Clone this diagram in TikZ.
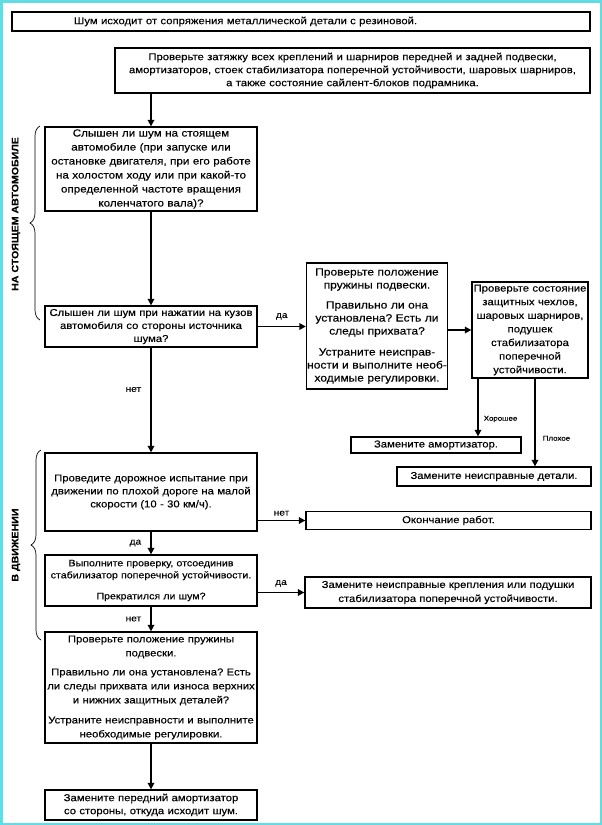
\documentclass[tikz,border=0pt]{standalone}
\usepackage{fontspec}
\setmainfont[FakeStretch=1.13,FakeBold=0.25]{Liberation Sans}
\usetikzlibrary{arrows.meta,decorations.pathreplacing,calc}
\definecolor{frame}{RGB}{95,220,228}
\frenchspacing
\begin{document}
\begin{tikzpicture}[x=1pt,y=-1pt,
  box/.style={draw=black,line width=1.3pt,inner sep=0pt,align=center,font=\fontsize{10}{13}\selectfont},
  arr/.style={line width=1.6pt,-{Triangle[length=6.5pt,width=6.5pt]}},
  lbl/.style={font=\fontsize{9}{10}\selectfont,inner sep=0pt},
  slbl/.style={font=\fontsize{7}{8}\selectfont,inner sep=0pt},
  brc/.style={decorate,decoration={brace,amplitude=10pt},line width=0.7pt},
  side/.style={font=\bfseries\fontsize{9.4}{11}\selectfont,rotate=90,inner sep=0pt}]
\useasboundingbox (0,0) rectangle (602,825);
\draw[frame,line width=2.5pt] (1.25,1.25) rectangle (600.75,823.75);

\node[box,minimum width=578pt,minimum height=19pt,text width=574pt,align=left] (b1) at (301,21.5) {\hspace*{60pt}Шум исходит от сопряжения металлической детали с резиновой.};

\node[box,minimum width=475pt,minimum height=45pt,text width=470pt] (b2) at (352.5,70.5)
 {Проверьте затяжку всех креплений и шарниров передней и задней подвески,\\
  амортизаторов, стоек стабилизатора поперечной устойчивости, шаровых шарниров,\\
  а также состояние сайлент-блоков подрамника.};

\node[box,minimum width=212pt,minimum height=84pt,text width=210pt,font=\fontsize{10.3}{14}\selectfont] (b3) at (151,169)
 {Слышен ли шум на стоящем\\ автомобиле (при запуске или\\ остановке двигателя, при его работе\\ на холостом ходу или при какой-то\\ определенной частоте вращения\\ коленчатого вала)?};

\node[box,minimum width=212pt,minimum height=41pt,text width=208pt] (b4) at (151,326.5)
 {Слышен ли шум при нажатии на кузов\\ автомобиля со стороны источника\\ шума?};

\node[box,minimum width=141pt,minimum height=126pt,text width=141pt,font=\fontsize{10.6}{13}\selectfont] (b5) at (377,326)
 {Проверьте положение\\ пружины подвески.\\[7pt]
  Правильно ли она\\ установлена? Есть ли\\ следы прихвата?\\[8pt]
  Устраните неисправ-\\ ности и выполните необ-\\ ходимые регулировки.};

\node[box,minimum width=116pt,minimum height=96pt,text width=115pt,font=\fontsize{10}{13.6}\selectfont] (b6) at (530,330)
 {Проверьте состояние\\ защитных чехлов,\\ шаровых шарниров,\\ подушек\\ стабилизатора\\ поперечной\\ устойчивости.};

\node[box,minimum width=170pt,minimum height=16pt] (ba) at (436,445) {Замените амортизатор.};
\node[box,minimum width=194pt,minimum height=19pt] (bb) at (494,476.5) {Замените неисправные детали.};

\node[box,minimum width=212pt,minimum height=78pt,text width=208pt] (b7) at (151,492)
 {Проведите дорожное испытание при\\ движении по плохой дороге на малой\\ скорости (10 - 30 км/ч).};

\node[box,minimum width=285pt,minimum height=18pt] (bc) at (448.5,520.5) {Окончание работ.};

\node[box,minimum width=212pt,minimum height=51pt,text width=212pt,font=\fontsize{9.4}{12}\selectfont] (b8) at (151,580.5)
 {Выполните проверку, отсоединив\\ стабилизатор поперечной устойчивости.\\[9pt] Прекратился ли шум?};

\node[box,minimum width=286pt,minimum height=31pt,font=\fontsize{10}{14}\selectfont] (bd) at (448,592.5)
 {Замените неисправные крепления или подушки\\ стабилизатора поперечной устойчивости.};

\node[box,minimum width=212pt,minimum height=111pt,text width=211pt,font=\fontsize{10}{14}\selectfont] (b9) at (151,687.5)
 {Проверьте положение пружины\\ подвески.\\[5pt]
  Правильно ли она установлена? Есть\\ ли следы прихвата или износа верхних\\ и нижних защитных деталей?\\[6pt]
  Устраните неисправности и выполните\\ необходимые регулировки.};

\node[box,minimum width=212pt,minimum height=30pt,text width=208pt] (b10) at (151,805)
 {Замените передний амортизатор\\ со стороны, откуда исходит шум.};

% connectors
\draw[arr] (b3.north |- b2.south) -- (b3.north);
\draw[arr] (b3.south) -- (b4.north);
\draw[arr] (b4.east) -- (b4.east -| b5.west) node[lbl,midway,above=6pt] {да};
\draw[arr] (b5.east |- b6.west) -- (b6.west);
\draw[arr] ([xshift=-52pt]b6.south) -- ([xshift=-52pt]b6.south |- ba.north)
  node[slbl,pos=0.7,right=5pt] {Хорошее};
\draw[arr] ([xshift=5pt]b6.south) -- ([xshift=5pt]b6.south |- bb.north)
  node[slbl,pos=0.68,right=7pt] {Плохое};
\draw[arr] (b4.south) -- (b7.north) node[lbl,pos=0.4,left=9pt] {нет};
\draw[arr] (b7.east |- bc.west) -- (bc.west) node[lbl,midway,above=4pt] {нет};
\draw[arr] (b7.south) -- (b8.north) node[lbl,midway,left=9pt] {да};
\draw[arr] (b8.east |- bd.west) -- (bd.west) node[lbl,midway,above=5pt] {да};
\draw[arr] (b8.south) -- (b9.north) node[lbl,midway,left=9pt] {нет};
\draw[arr] (b9.south) -- (b10.north);

% side braces
\draw[brc] (40,320) -- (40,126);
\node[side] (s1) at (16,214) {НА СТОЯЩЕМ АВТОМОБИЛЕ};
\draw[brc] (41,640) -- (41,450);
\node[side] (s2) at (16,545) {В ДВИЖЕНИИ};
\end{tikzpicture}
\end{document}
